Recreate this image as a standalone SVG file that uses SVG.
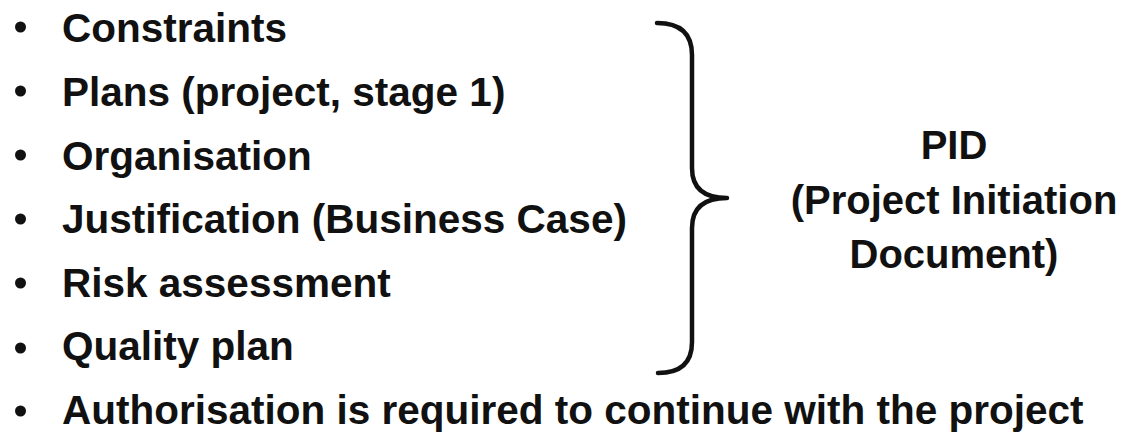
<svg xmlns="http://www.w3.org/2000/svg" width="1131" height="432" viewBox="0 0 1131 432">
  <style>
    .item { font-family: "Liberation Sans", Arial, sans-serif; font-weight: bold; font-size: 40.5px; fill: #111; }
    .label { font-family: "Liberation Sans", Arial, sans-serif; font-weight: bold; font-size: 40px; fill: #111; text-anchor: middle; }
    .dot { fill: #111; }
    .brace { fill: none; stroke: #111; stroke-width: 4.5; stroke-linecap: round; stroke-linejoin: round; }
  </style>
  <rect width="1131" height="432" fill="#fff"/>

  <!-- bulleted list -->
  <g id="list">
    <g id="item-constraints">
      <circle class="dot" cx="20.5" cy="27" r="5.5"/>
      <text class="item" x="62" y="42">Constraints</text>
    </g>
    <g id="item-plans">
      <circle class="dot" cx="20.5" cy="91" r="5.5"/>
      <text class="item" x="62" y="106">Plans (project, stage 1)</text>
    </g>
    <g id="item-organisation">
      <circle class="dot" cx="20.5" cy="155" r="5.5"/>
      <text class="item" x="62" y="170">Organisation</text>
    </g>
    <g id="item-justification">
      <circle class="dot" cx="20.5" cy="219" r="5.5"/>
      <text class="item" x="62" y="233">Justification (Business Case)</text>
    </g>
    <g id="item-risk">
      <circle class="dot" cx="20.5" cy="283" r="5.5"/>
      <text class="item" x="62" y="297">Risk assessment</text>
    </g>
    <g id="item-quality">
      <circle class="dot" cx="20.5" cy="348" r="5.5"/>
      <text class="item" x="62" y="360">Quality plan</text>
    </g>
    <g id="item-authorisation">
      <circle class="dot" cx="20.5" cy="411" r="5.5"/>
      <text class="item" x="62" y="424">Authorisation is required to continue with the project</text>
    </g>
  </g>

  <!-- curly brace grouping the first six items -->
  <g id="connectors">
    <path class="brace" d="M657,23 Q692,23 692,55 L692,168 Q692,198 727,198 Q692,198 692,228 L692,342 Q692,373 658,373"/>
  </g>

  <!-- summary label -->
  <g id="pid">
    <text class="label" x="954" y="159">PID</text>
    <text class="label" x="954" y="214">(Project Initiation</text>
    <text class="label" x="954" y="268">Document)</text>
  </g>
</svg>
